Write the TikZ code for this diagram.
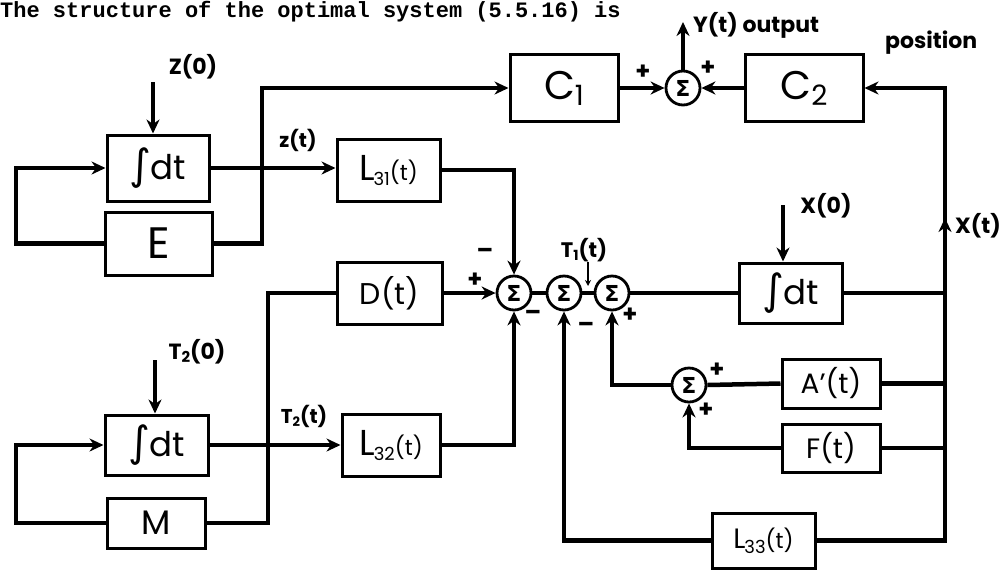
\documentclass[tikz,border=0pt]{standalone}
\usepackage{fontspec}
\setmainfont{Poppins}
\newfontfamily\tw{Liberation Mono}
\newfontfamily\dv{DejaVu Sans}
\usetikzlibrary{arrows.meta,calc}
\newcommand{\fs}[1]{\fontsize{#1}{#1}\selectfont}
\newcommand{\intdt}{{\dv\fs{42}∫}\kern-1pt{\fs{34}dt}}
\newcommand{\Lsub}[2]{{\fs{#2}L}\kern-1pt{\fs{18}\raisebox{-5pt}{#1}}{\fs{22}(t)}}
\begin{document}
\begin{tikzpicture}[x=1pt,y=-1pt,
  blk/.style={draw,line width=3pt,inner sep=0pt,font=\fs{30}},
  sig/.style={line width=4.5pt},
  arr/.style={sig,-{Stealth[length=14pt,width=13pt]}},
  smn/.style={draw,circle,line width=2.8pt,minimum size=34pt,inner sep=0pt,font=\dv\bfseries\fs{22}},
  lab/.style={inner sep=0pt,font=\bfseries\fs{22}},
  pm/.style={inner sep=0pt,font=\bfseries\fs{24}}]
\useasboundingbox (0,0) rectangle (1008,571);
% title
\node[anchor=base west,inner sep=0pt,font=\tw\bfseries\fs{22}] (title) at (0,17) {The structure of the optimal system (5.5.16) is};
% blocks
\node[blk,minimum width=102pt,minimum height=66pt] (int1) at (158,168) {\intdt};
\node[blk,minimum width=107pt,minimum height=63pt] (E) at (158.5,243.5) {\fs{44}E};
\node[blk,minimum width=103pt,minimum height=62pt] (L31) at (388.5,170) {\Lsub{31}{36}};
\node[blk,minimum width=108pt,minimum height=67pt] (C1) at (564,88) {\fs{40}C\raisebox{-6pt}{\fs{28}1}};
\node[blk,minimum width=118pt,minimum height=67pt] (C2) at (804,88) {\fs{40}C\raisebox{-6pt}{\fs{28}2}};
\node[smn] (S0) at (683,88) {Σ};
\node[blk,minimum width=105pt,minimum height=62pt] (D) at (389.5,293) {\fs{30}D(t)};
\node[smn] (S1) at (514,293) {Σ};
\node[smn] (S2) at (564,293) {Σ};
\node[smn] (S3) at (612,293) {Σ};
\node[blk,minimum width=103pt,minimum height=60pt] (int2) at (790.5,293) {\intdt};
\node[blk,minimum width=98pt,minimum height=49pt] (A) at (831,383.5) {\fs{28}A'(t)};
\node[smn] (S4) at (689,385) {Σ};
\node[blk,minimum width=98pt,minimum height=48pt] (F) at (831,448) {\fs{28}F(t)};
\node[blk,minimum width=103pt,minimum height=60pt] (int3) at (156.5,445) {\intdt};
\node[blk,minimum width=98pt,minimum height=50pt] (M) at (156,523) {\fs{34}M};
\node[blk,minimum width=98pt,minimum height=62pt] (L32) at (391,445) {\Lsub{32}{36}};
\node[blk,minimum width=103pt,minimum height=55pt] (L33) at (763.5,540.5) {\Lsub{33}{28}};
% coordinates
\coordinate (lpx) at (16,0);
\coordinate (jz) at (262,0);
\coordinate (jt) at (268,0);
\coordinate (bus) at (945,0);
\coordinate (z0) at (153,82);
\coordinate (t20) at (155,360);
\coordinate (x0) at (783,205);
\coordinate (yt) at (683,22);
\coordinate (xt) at (945,218);
\coordinate (t1a) at (588,262);
\coordinate (t1b) at (588,286);
% connectors
\draw[arr] (E.west) -- (E.west -| lpx) |- (int1.west);
\draw[arr] (int1.east) -- (int1.east -| L31.west);
\draw[arr] (E.east) -- (E.east -| jz) |- (C1.west);
\draw[arr] (C1.east) -- (S0.west);
\draw[arr] (C2.west) -- (S0.east);
\draw[arr] (S0.north) -- (yt);
\draw[arr] (L33.east) -- (L33.east -| bus) -- (bus |- C2.east) -- (C2.east);
\draw[arr] (bus |- int2.east) -- (xt);
\draw[sig] (int2.east) -- (int2.east -| bus);
\draw[sig] (A.east) -- (A.east -| bus);
\draw[sig] (F.east) -- (F.east -| bus);
\draw[arr] (z0) -- (z0 |- int1.north);
\draw[arr] (t20) -- (t20 |- int3.north);
\draw[arr] (x0) -- (x0 |- int2.north);
\draw[arr] (L31.east) -| (S1.north);
\draw[arr] (D.east) -- (S1.west);
\draw[arr] (L32.east) -| (S1.south);
\draw[sig] (S1.east) -- (S2.west);
\draw[sig] (S2.east) -- (S3.west);
\draw[sig] (S3.east) -- (int2.west);
\draw[arr] (L33.west) -| (S2.south);
\draw[arr] (S4.west) -| (S3.south);
\draw[arr] (F.west) -| (S4.south);
\draw[sig] (A.west) -- (S4.east);
\draw[arr] (M.west) -- (M.west -| lpx) |- (int3.west);
\draw[arr] (int3.east) -- (int3.east -| L32.west);
\draw[sig] (M.east) -- (M.east -| jt) |- (D.west);
\draw[line width=1.4pt,-{Stealth[length=6pt,width=6pt]}] (t1a) -- (t1b);
% labels
\node[lab] (lz0) at (193,67) {Z(0)};
\node[lab,font=\bfseries\fs{20}] (lzt) at (298,140) {z(t)};
\node[lab,anchor=base west] (lyt) at (693,32) {Y(t) output};
\node[lab,anchor=base west] (lpos) at (885,48) {position};
\node[lab] (lx0) at (826,206) {X(0)};
\node[lab,anchor=west] (lxt) at (955,226) {X(t)};
\node[lab] (lt20) at (197,352) {T\raisebox{-3pt}{\fs{15}2}(0)};
\node[lab,font=\bfseries\fs{20}] (lt2t) at (304,416) {T\raisebox{-3pt}{\fs{13}2}(t)};
\node[lab,font=\bfseries\fs{21}] (lt1t) at (584,250) {T\raisebox{-3pt}{\fs{14}1}(t)};
\node[pm] (p1) at (643,72) {+};
\node[pm] (p2) at (708,68) {+};
\node[pm] (m1) at (485,253) {\textendash};
\node[pm] (p3) at (475,280) {+};
\node[pm] (m2) at (533,315) {\textendash};
\node[pm] (m3) at (586,327) {\textendash};
\node[pm] (p4) at (630,315) {+};
\node[pm] (p5) at (717,370) {+};
\node[pm] (p6) at (706,410) {+};
\end{tikzpicture}
\end{document}
